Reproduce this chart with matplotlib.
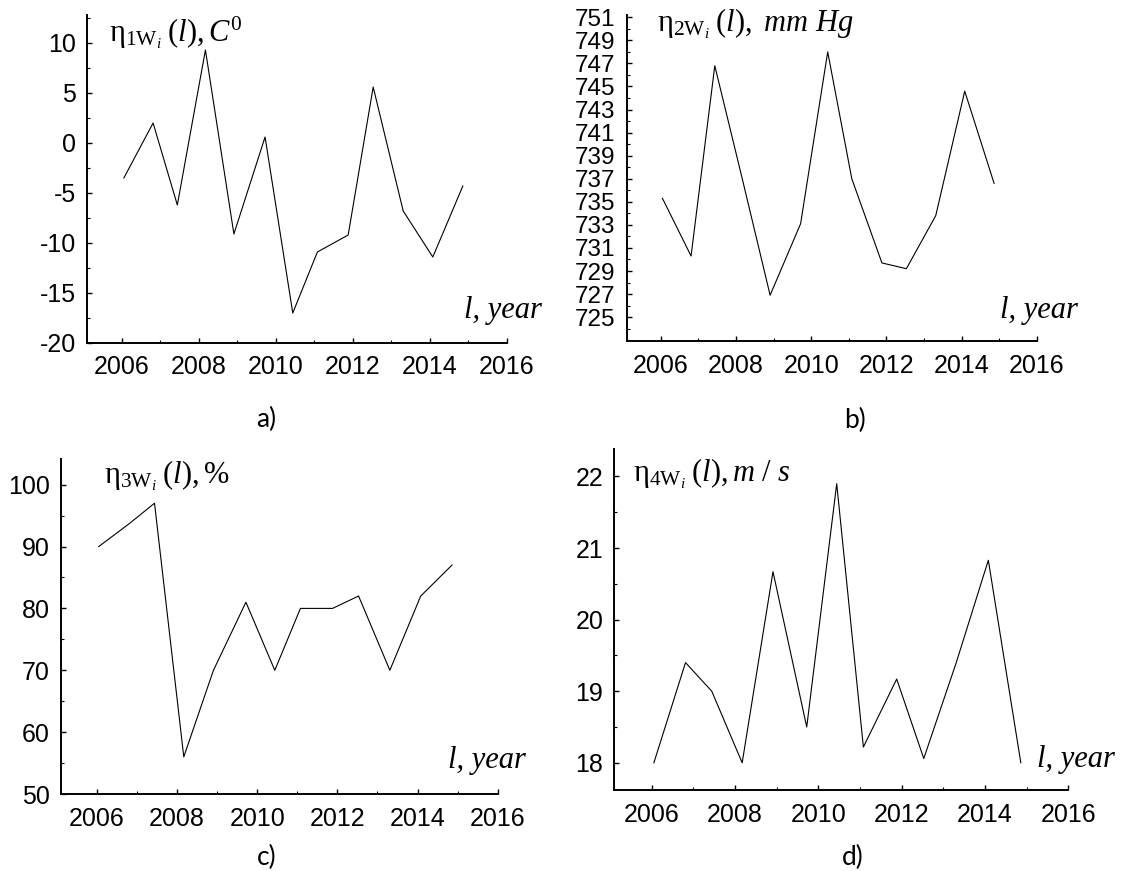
import matplotlib
matplotlib.use("Agg")
import matplotlib.pyplot as plt
from matplotlib.ticker import MultipleLocator, AutoMinorLocator

plt.rcParams['font.family'] = ['Liberation Sans', 'DejaVu Sans']
plt.rcParams['axes.unicode_minus'] = False
plt.rcParams['mathtext.fontset'] = 'custom'
plt.rcParams['mathtext.rm'] = 'Liberation Serif'
plt.rcParams['mathtext.it'] = 'Liberation Serif:italic'

# observation times (same for all four series)
years = [2006.05, 2006.81, 2007.44, 2008.17, 2008.91, 2009.72, 2010.44,
         2011.08, 2011.88, 2012.53, 2013.31, 2014.08, 2014.86]

# a) temperature, C
temp = [-3.5, 2.0, -6.2, 9.3, -9.1, 0.6, -17.0, -10.9, -9.2, 5.6, -6.8, -11.4, -4.3]
# b) pressure, mm Hg
pressure = [735.3, 730.3, 746.8, 737.0, 726.9, 733.1, 748.0, 737.0, 729.7, 729.2,
            733.8, 744.6, 736.6]
# c) humidity, %
humidity = [90, 93.7, 97, 56, 70, 81, 70, 80, 80, 82, 70, 82, 87]
# d) wind speed, m/s
wind = [18.0, 19.4, 19.0, 18.0, 20.67, 18.5, 21.9, 18.22, 19.17, 18.06, 19.4, 20.83, 18.0]

x_ticks = [2006, 2008, 2010, 2012, 2014, 2016]

W, H = 1122, 871
fig = plt.figure(figsize=(W / 100, H / 100), dpi=100)


def px_axes(left, top, right, bottom):
    # axes rectangle given in pixel coords (origin top-left)
    return fig.add_axes([left / W, 1 - bottom / H, (right - left) / W, (bottom - top) / H])


panels = [
    # rect, values, ylim, major step, label, label pos, x label pos, letter, letter pos
    ((87.3, 15, 506.7, 343), temp, (-20, 12.8), 5,
     r'$\mathrm{η}_{1\mathrm{W}_{i}}\;(l), C^{0}$', (0.052, 0.919), (0.897, 0.076), 'a)', (266, 419)),
    ((626.7, 15, 1037, 341), pressure, (722.93, 751.2), 2,
     r'$\mathrm{η}_{2\mathrm{W}_{i}}\;(l),\ mm\ Hg$', (0.074, 0.949), (0.91, 0.07), 'b)', (855, 420)),
    ((60.7, 459.3, 497.7, 794), humidity, (50, 104.1), 10,
     r'$\mathrm{η}_{3\mathrm{W}_{i}}\;(l), \%$', (0.098, 0.928), (0.886, 0.077), 'c)', (267, 857)),
    ((614.3, 449.3, 1068.3, 790), wind, (17.62, 22.38), 1,
     r'$\mathrm{η}_{4\mathrm{W}_{i}}\;(l), m\ /\ s$', (0.041, 0.905), (0.931, 0.068), 'd)', (853, 857)),
]

for rect, vals, ylim, major, ylab, ylab_pos, xlab_pos, letter, letter_pos in panels:
    ax = px_axes(*rect)
    ax.plot(years, vals, color='black', lw=0.8)
    ax.set_xlim(2005.1, 2016)
    ax.set_ylim(*ylim)
    ax.set_xticks(x_ticks)
    ax.xaxis.set_minor_locator(AutoMinorLocator(2))
    if major == 2:
        ax.set_yticks(range(725, 752, 2))
    else:
        ax.yaxis.set_major_locator(MultipleLocator(major))
    ax.yaxis.set_minor_locator(AutoMinorLocator(2))
    for s in ['top', 'right']:
        ax.spines[s].set_visible(False)
    for s in ['left', 'bottom']:
        ax.spines[s].set_linewidth(1.4)
    ax.tick_params(which='major', direction='in', length=3.3, width=1.0, labelsize=18)
    ax.tick_params(which='minor', direction='in', length=2.0, width=0.8)
    ax.tick_params(axis='x', pad=9)
    ax.tick_params(axis='y', pad=8)
    if major == 2:
        ax.tick_params(axis='y', labelsize=17.5)
    ax.text(*ylab_pos, ylab, transform=ax.transAxes, fontsize=22, va='baseline', ha='left')
    ax.text(*xlab_pos, 'l, year', transform=ax.transAxes, fontsize=22, va='baseline',
            ha='left', family='Liberation Serif', style='italic')
    fig.text(letter_pos[0] / W, 1 - letter_pos[1] / H, letter, fontsize=19,
             family=['Lato', 'DejaVu Sans'], ha='center', va='center')

fig.savefig('out.png', dpi=100)
